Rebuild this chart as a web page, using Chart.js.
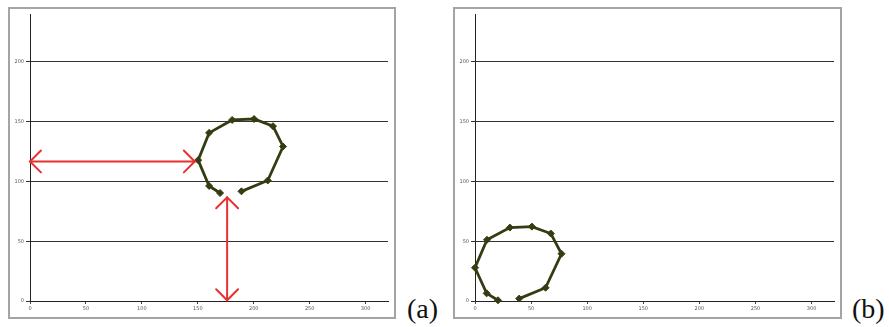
<!DOCTYPE html>
<html>
<head>
<meta charset="utf-8">
<script src="https://cdn.jsdelivr.net/npm/chart.js@4"></script>
<style>
  body { margin: 0; width: 889px; height: 327px; background: #fff; position: relative; overflow: hidden; }
  .box { position: absolute; top: 7px; height: 312px; border: 2px solid #a4a4a4; box-sizing: border-box; }
  .box canvas { display: block; }
  .tag { position: absolute; top: 295px; font: 28px "Liberation Serif", serif; line-height: 28px; color: #111; }
</style>
</head>
<body>
<div class="box" style="left:8px; width:388px;"><canvas id="chartA" width="384" height="308"></canvas></div>
<div class="box" style="left:453px; width:389px;"><canvas id="chartB" width="385" height="308"></canvas></div>
<div class="tag" style="left:407px;">(a)</div>
<div class="tag" style="left:852px;">(b)</div>
<script>
// values
const xA = [169.9, 160.1, 150.3, 160.1, 180.7, 200.3, 217.2, 226.2, 212.5, 189.0];
const yA = [90.3, 96.2, 117.8, 140.6, 151.4, 152.2, 146.2, 129.2, 100.8, 91.7];
const xB = [20.5, 10.4, 0, 10.7, 31.1, 50.7, 67.6, 77.1, 62.9, 39.4];
const yB = [0.6, 6.4, 27.8, 51.2, 61.4, 62.2, 56.4, 39.5, 11.1, 2.0];
const xTicks = [0, 50, 100, 150, 200, 250, 300];
const yTicks = [0, 50, 100, 150, 200];

// red double arrows on panel (a): [x1, y1, x2, y2] in data units
const arrowsA = [
  [0, 116.7, 147.3, 116.7],
  [176.2, 86.7, 176.2, 0.6]
];

const lineColor = '#333d12';

const arrowPlugin = {
  id: 'arrows',
  afterDatasetsDraw(chart, args, opts) {
    const list = opts.list || [];
    if (!list.length) return;
    const c = chart.ctx, xs = chart.scales.x, ys = chart.scales.y;
    c.save();
    c.strokeStyle = '#e8302f';
    c.lineWidth = 2;
    c.lineCap = 'round';
    list.forEach(a => {
      const x1 = xs.getPixelForValue(a[0]), y1 = ys.getPixelForValue(a[1]);
      const x2 = xs.getPixelForValue(a[2]), y2 = ys.getPixelForValue(a[3]);
      c.beginPath();
      c.moveTo(x1, y1);
      c.lineTo(x2, y2);
      c.stroke();
      const ang = Math.atan2(y2 - y1, x2 - x1);
      const head = 15.5;
      [[x1, y1, ang + Math.PI], [x2, y2, ang]].forEach(h => {
        c.beginPath();
        c.moveTo(h[0] - head * Math.cos(h[2] - Math.PI / 4), h[1] - head * Math.sin(h[2] - Math.PI / 4));
        c.lineTo(h[0], h[1]);
        c.lineTo(h[0] - head * Math.cos(h[2] + Math.PI / 4), h[1] - head * Math.sin(h[2] + Math.PI / 4));
        c.stroke();
      });
    });
    c.restore();
  }
};

function makeChart(id, xs, ys, arrows) {
  const pts = xs.map((x, i) => ({ x: x, y: ys[i] }));
  return new Chart(document.getElementById(id), {
    type: 'scatter',
    data: {
      datasets: [{
        data: pts,
        showLine: true,
        borderColor: lineColor,
        borderWidth: 2.8,
        backgroundColor: lineColor,
        pointStyle: 'rectRot',
        pointRadius: 3.5,
        pointBorderWidth: 1,
        clip: false
      }]
    },
    options: {
      responsive: false,
      animation: false,
      layout: { padding: { top: 4, right: 6, left: 0, bottom: 0 } },
      plugins: {
        legend: { display: false },
        tooltip: { enabled: false },
        arrows: { list: arrows }
      },
      scales: {
        x: {
          type: 'linear',
          min: 0,
          max: 320,
          afterBuildTicks: axis => { axis.ticks = xTicks.map(v => ({ value: v })); },
          afterFit: axis => { axis.height = 16; },
          grid: { drawOnChartArea: false, drawTicks: true, tickLength: 3, color: '#444' },
          border: { color: '#222', width: 1 },
          ticks: { font: { size: 5, family: 'DejaVu Sans' }, color: '#555', padding: 2, maxRotation: 0 }
        },
        y: {
          type: 'linear',
          min: 0,
          max: 240,
          afterBuildTicks: axis => { axis.ticks = yTicks.map(v => ({ value: v })); },
          afterFit: axis => { axis.width = 20; },
          grid: { drawTicks: true, tickLength: 4, color: '#333', lineWidth: 1 },
          border: { color: '#222', width: 1 },
          ticks: { font: { size: 5, family: 'DejaVu Sans' }, color: '#555', padding: 2 }
        }
      }
    },
    plugins: [arrowPlugin]
  });
}

makeChart('chartA', xA, yA, arrowsA);
makeChart('chartB', xB, yB, []);
</script>
</body>
</html>
